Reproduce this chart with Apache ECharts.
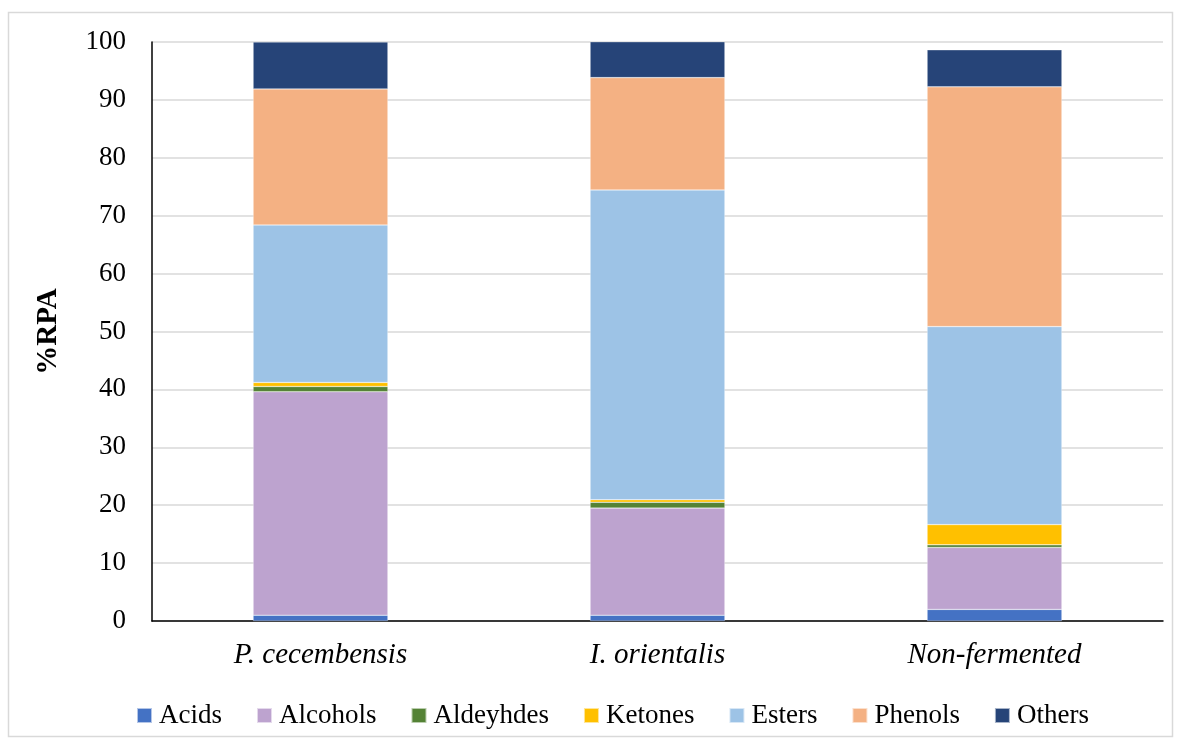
<!DOCTYPE html>
<html>
<head>
<meta charset="utf-8">
<script src="https://cdn.jsdelivr.net/npm/echarts@6/dist/echarts.min.js"></script>
<style>
html, body { margin: 0; padding: 0; background: #fff; }
#chart { width: 1181px; height: 744px; }
</style>
</head>
<body>
<div id="chart"></div>
<script>
// Sample groups on the x axis
const categories = ['P. cecembensis', 'I. orientalis', 'Non-fermented'];

// Relative peak area (%) of each compound class per sample
const acids     = [1.0, 1.0, 2.0];
const alcohols  = [38.6, 18.5, 10.7];
const aldehydes = [0.9, 1.0, 0.45];
const ketones   = [0.7, 0.45, 3.5];
const esters    = [27.2, 53.5, 34.2];
const phenols   = [23.5, 19.4, 41.4];
const others    = [8.1, 6.2, 6.4];

const yTicks = [0, 10, 20, 30, 40, 50, 60, 70, 80, 90, 100];

const seriesDefs = [
  ['Acids', acids, '#4472C4'],
  ['Alcohols', alcohols, '#BDA3CF'],
  ['Aldeyhdes', aldehydes, '#548235'],
  ['Ketones', ketones, '#FFC000'],
  ['Esters', esters, '#9DC3E6'],
  ['Phenols', phenols, '#F4B183'],
  ['Others', others, '#264478']
];

const font = '"Liberation Serif", "Times New Roman", serif';

const chart = echarts.init(document.getElementById('chart'));
chart.setOption({
  animation: false,
  textStyle: { fontFamily: font },
  graphic: [{
    type: 'rect',
    shape: { x: 8.5, y: 12.5, width: 1164, height: 724 },
    style: { fill: 'none', stroke: '#d9d9d9', lineWidth: 1.5 },
    silent: true
  }],
  legend: {
    top: 697,
    left: 131,
    itemWidth: 15,
    itemHeight: 15,
    itemGap: 34,
    icon: 'rect',
    textStyle: { fontFamily: font, fontSize: 27, color: '#000', padding: [0, 0, 0, 2] },
    data: seriesDefs.map(d => d[0])
  },
  grid: { left: 152, right: 18, top: 42, bottom: 123 },
  xAxis: {
    type: 'category',
    data: categories,
    axisLine: { lineStyle: { color: '#000', width: 1.5 } },
    axisTick: { show: false },
    axisLabel: { fontFamily: font, fontSize: 29, fontStyle: 'italic', color: '#000', margin: 20 }
  },
  yAxis: {
    type: 'value',
    min: yTicks[0],
    max: yTicks[yTicks.length - 1],
    interval: 10,
    name: '%RPA',
    nameLocation: 'middle',
    nameGap: 89,
    nameRotate: 90,
    nameTextStyle: { fontFamily: font, fontSize: 29, fontWeight: 'bold', color: '#000' },
    axisLine: { show: true, lineStyle: { color: '#000', width: 1.5 } },
    axisTick: { show: false },
    splitLine: { lineStyle: { color: '#d9d9d9', width: 1.5 } },
    axisLabel: { fontFamily: font, fontSize: 27, color: '#000', margin: 26 }
  },
  series: seriesDefs.map(([name, data, color]) => ({
    name,
    type: 'bar',
    stack: 'total',
    barWidth: '40%',
    data,
    itemStyle: { color, borderColor: 'rgba(255,255,255,0.6)', borderWidth: 0.5 }
  }))
});
</script>
</body>
</html>
